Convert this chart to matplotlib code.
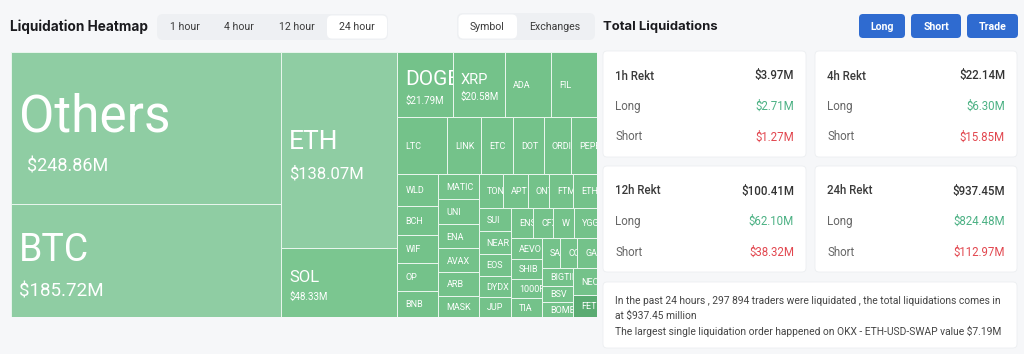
import matplotlib.pyplot as plt
from matplotlib.patches import Rectangle, FancyBboxPatch

# treemap data (USD millions, 24 hour)
names = ["Others", "BTC", "ETH", "SOL",
         "DOGE", "XRP", "ADA", "FIL",
         "LTC", "LINK", "ETC", "DOT", "ORDI", "PEPE",
         "WLD", "BCH", "WIF", "OP", "BNB",
         "MATIC", "UNI", "ENA", "AVAX", "ARB", "MASK",
         "TON", "APT", "ONT", "FTM", "ETHFI",
         "SUI", "NEAR", "EOS", "DYDX", "JUP",
         "ENS", "CFX", "W", "YGG",
         "AEVO", "SHIB", "1000FLOKI", "TIA",
         "SAND", "COMP", "GALA",
         "BIGTIME", "BSV", "BOME",
         "NEO", "FET"]
values = [248.86, 185.72, 138.07, 48.33,
          21.79, 20.58, 18.2, 18.0,
          17.3, 11.8, 11.1, 10.7, 9.4, 9.0,
          8.0, 7.2, 7.0, 6.9, 6.5,
          6.1, 6.1, 5.9, 5.8, 5.8, 5.1,
          5.0, 5.1, 4.5, 4.9, 4.9,
          4.6, 4.4, 4.4, 4.1, 4.0,
          4.0, 3.7, 3.8, 4.1,
          3.9, 3.8, 3.6, 3.6,
          3.3, 3.1, 3.6,
          3.4, 3.0, 2.8,
          3.9, 3.2]
# how many cells go in each strip of the squarified layout
strip_sizes = [2, 2, 4, 6, 5, 6, 5, 5, 4, 4, 3, 3, 1, 1]

# summary cards
card_titles = ["1h Rekt", "4h Rekt", "12h Rekt", "24h Rekt"]
card_total = ["$3.97M", "$22.14M", "$100.41M", "$937.45M"]
card_long = ["$2.71M", "$6.30M", "$62.10M", "$824.48M"]
card_short = ["$1.27M", "$15.85M", "$38.32M", "$112.97M"]
time_tabs = ["1 hour", "4 hour", "12 hour", "24 hour"]
summary = ["In the past 24 hours , 297 894 traders were liquidated , the total liquidations comes in",
           "at $937.45 million",
           "The largest single liquidation order happened on OKX - ETH-USD-SWAP value $7.19M"]

LIGHT, MID, DARK = "#8fcda3", "#74c28a", "#5aab72"
cell_color = {n: MID for n in names}
for n in ["Others", "BTC", "ETH"]:
    cell_color[n] = LIGHT
cell_color["SOL"] = "#7bc690"
cell_color["FET"] = DARK
# (name pt, value pt) for the labelled big cells
big_fonts = {"Others": (37, 13), "BTC": (27, 13.5), "ETH": (19, 12),
             "SOL": (12, 7), "DOGE": (15, 7), "XRP": (10.5, 7)}
value_pad = {"Others": 16}
SMALL_PT = 6.5

FONT = "Roboto"
BG = "#f6f7f9"


def squarify_strips(vals, sizes, w, h):
    rects = []
    x, y = 0.0, 0.0
    i = 0
    remaining = sum(vals)
    for k in sizes:
        chunk = vals[i:i + k]
        s = sum(chunk)
        if w > h * 1.02:   # column on the left
            sw = w * s / remaining
            yy = y
            for v in chunk:
                hh = h * v / s
                rects.append((x, yy, sw, hh))
                yy += hh
            x += sw
            w -= sw
        else:              # row on top
            sh = h * s / remaining
            xx = x
            for v in chunk:
                ww = w * v / s
                rects.append((xx, y, ww, sh))
                xx += ww
            y += sh
            h -= sh
        remaining -= s
        i += k
    return rects


fig = plt.figure(figsize=(10.24, 3.54), dpi=100, facecolor=BG)

# page / UI layer in pixel coordinates
ui = fig.add_axes([0, 0, 1, 1])
ui.set_xlim(0, 1024)
ui.set_ylim(354, 0)
ui.axis("off")


def box(x0, y0, x1, y1, color, r=4, ec="none"):
    ui.add_patch(FancyBboxPatch((x0, y0), x1 - x0, y1 - y0,
                                boxstyle=f"round,pad=0,rounding_size={r}",
                                fc=color, ec=ec, lw=0.6))


ui.text(10, 27, "Liquidation Heatmap", family="Inter", weight="bold",
        fontsize=9.8, color="#1b1b1f", va="center")

box(157, 14, 388, 40, "#eef0f3", r=6)
box(327, 15.5, 387, 38.5, "white", r=5)
for t, cx in zip(time_tabs, [185, 239, 297, 357]):
    ui.text(cx, 27, t, family=FONT, fontsize=7.6, color="#3a3a3a",
            ha="center", va="center")

box(457, 13, 595, 40, "#eef0f3", r=6)
box(458.5, 14.5, 517, 38.5, "white", r=5)
ui.text(487, 27, "Symbol", family=FONT, fontsize=7.6, color="#3a3a3a", ha="center", va="center")
ui.text(555, 27, "Exchanges", family=FONT, fontsize=7.6, color="#3a3a3a", ha="center", va="center")

ui.text(603, 27, "Total Liquidations", family="Inter", weight="bold",
        fontsize=9.4, color="#1b1b1f", va="center")
for lab, (x0, x1) in zip(["Long", "Short", "Trade"], [(859, 905), (911, 961), (967, 1018)]):
    box(x0, 14, x1, 38, "#2f6bd0", r=4)
    ui.text((x0 + x1) / 2, 26.5, lab, family=FONT, weight="bold", fontsize=7.6,
            color="white", ha="center", va="center")

card_boxes = [(603, 51, 806, 157), (815, 51, 1017, 157),
              (603, 166, 806, 272), (815, 166, 1017, 272)]
for (x0, y0, x1, y1), ttl, tot, lg, sh in zip(card_boxes, card_titles,
                                              card_total, card_long, card_short):
    box(x0, y0, x1, y1, "white", r=4, ec="#eceef1")
    rows = [(ttl, tot, "#3a3a3a", "#333333", "medium"),
            ("Long", lg, "#666666", "#4cb184", "normal"),
            ("Short", sh, "#666666", "#e2474f", "normal")]
    for j, (lab, val, lc, vc, wt) in enumerate(rows):
        yy = y0 + 25 + 30.5 * j
        ui.text(x0 + 12, yy, lab, family=FONT, fontsize=8.3, color=lc,
                weight=wt, va="center")
        ui.text(x1 - 12, yy, val, family=FONT, fontsize=8.3, color=vc,
                weight="medium" if j == 0 else "normal", va="center", ha="right")

box(603, 282, 1017, 348, "white", r=4, ec="#eceef1")
for line, yy in zip(summary, [301, 315.5, 331]):
    ui.text(615, yy, line, family=FONT, fontsize=7.35, color="#444444", va="center")

# treemap axes: 586 x 265 px region
TX, TY, TW, TH = 11, 52, 586, 265
ax = fig.add_axes([TX / 1024, 1 - (TY + TH) / 354, TW / 1024, TH / 354])
ax.set_xlim(0, TW)
ax.set_ylim(TH, 0)
ax.axis("off")

rects = squarify_strips(values, strip_sizes, TW, TH)
PX = 0.72  # pt per px at 100 dpi
for n, v, (x, y, w, h) in zip(names, values, rects):
    patch = Rectangle((x, y), w, h, fc=cell_color[n], ec="#e9f6ee", lw=0.7)
    ax.add_patch(patch)
    cy = y + h / 2
    labels = []
    if n in big_fonts:
        f1, f2 = big_fonts[n]
        p1, p2 = f1 / PX, f2 / PX
        d = 0.75 * (p1 + p2)
        k = 0.22 * p1
        c1 = cy - d / 2 + k
        c2 = cy + d / 2 + k
        labels.append(ax.text(x + 8, c1 + 0.355 * p1, n, family=FONT, fontsize=f1,
                              color="white", va="baseline"))
        labels.append(ax.text(x + value_pad.get(n, 8), c2 + 0.355 * p2, f"${v:.2f}M",
                              family=FONT, fontsize=f2, color="white", va="baseline"))
    else:
        p = SMALL_PT / PX
        labels.append(ax.text(x + 8, cy + 0.355 * p, n, family=FONT, fontsize=SMALL_PT,
                              color="white", va="baseline"))
    for t in labels:
        t.set_clip_on(True)
        t.set_clip_path(patch)

fig.savefig("out.png", dpi=100, facecolor=BG)
